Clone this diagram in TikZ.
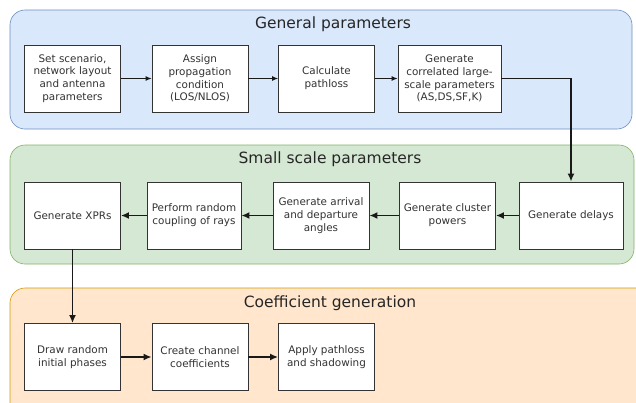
\documentclass[tikz,border=0pt]{standalone}
\usepackage{fontspec}
\setmainfont{DejaVu Sans}
\usetikzlibrary{arrows.meta}

\definecolor{genfill}{HTML}{DAE8FC}
\definecolor{gendraw}{HTML}{6C8EBF}
\definecolor{ssfill}{HTML}{D5E8D4}
\definecolor{ssdraw}{HTML}{82B366}
\definecolor{cofill}{HTML}{FFE6CC}
\definecolor{codraw}{HTML}{D79B00}

\tikzset{
  panel/.style={rounded corners=15pt, line width=0.6pt},
  stepbox/.style={draw=black!80, fill=white, line width=0.8pt, minimum width=96pt,
    minimum height=67pt, align=center, text=black!80, inner sep=1pt,
    font=\fontsize{10.4}{12.8}\selectfont},
  title/.style={text=black!85, font=\fontsize{15.5}{18}\selectfont},
  flow/.style={-{Latex[length=8pt,width=7pt]}, line width=1.6pt, black!90},
  thinflow/.style={-{Latex[length=6pt,width=5pt]}, line width=0.9pt, black!90}
}

\begin{document}
\begin{tikzpicture}[x=1pt,y=-1pt]

\useasboundingbox (0,0) rectangle (636,402);
\fill[white] (0,0) rectangle (636,402);

% panels
\draw[panel, fill=genfill, draw=gendraw] (10,10) rectangle (632,129);
\draw[panel, fill=ssfill, draw=ssdraw] (10,145) rectangle (634,264);
\draw[panel, fill=cofill, draw=codraw] (10,288) rectangle (660,420);

\node[title] (tgen) at (333,24) {General parameters};
\node[title] (tss) at (330,159) {Small scale parameters};
\node[title] (tco) at (330,303) {Coefficient generation};

% general parameters
\node[stepbox] (scen) at (72.5,78.5) {Set scenario,\\network layout\\and antenna\\parameters};
\node[stepbox] (prop) at (200,78.5) {Assign\\propagation\\condition\\(LOS/NLOS)};
\node[stepbox] (ploss) at (326.5,78.5) {Calculate\\pathloss};
\node[stepbox, minimum width=103pt] (lsp) at (449.5,78.5) {Generate\\correlated large-\\scale parameters\\(AS,DS,SF,K)};

% small scale parameters
\node[stepbox, minimum width=104pt] (delays) at (571,215.5) {Generate delays};
\node[stepbox] (powers) at (447.5,215.5) {Generate cluster\\powers};
\node[stepbox] (angles) at (321,215.5) {Generate arrival\\and departure\\angles};
\node[stepbox, minimum width=94pt] (coupling) at (194,215.5) {Perform random\\coupling of rays};
\node[stepbox] (xpr) at (72.5,215.5) {Generate XPRs};

% coefficient generation
\node[stepbox] (phases) at (72.5,357) {Draw random\\initial phases};
\node[stepbox] (coeff) at (200,357) {Create channel\\coefficients};
\node[stepbox] (shadow) at (326.5,357) {Apply pathloss\\and shadowing};

\draw[thinflow] (scen) -- (prop);
\draw[thinflow] (prop) -- (ploss);
\draw[thinflow] (ploss) -- (lsp);
\draw[flow] (lsp.east) -| (delays.north);
\draw[flow] (delays) -- (powers);
\draw[flow] (powers) -- (angles);
\draw[flow] (angles) -- (coupling);
\draw[flow] (coupling) -- (xpr);
\draw[flow] (xpr) -- (phases);
\draw[flow] (phases) -- (coeff);
\draw[flow] (coeff) -- (shadow);

\end{tikzpicture}
\end{document}
